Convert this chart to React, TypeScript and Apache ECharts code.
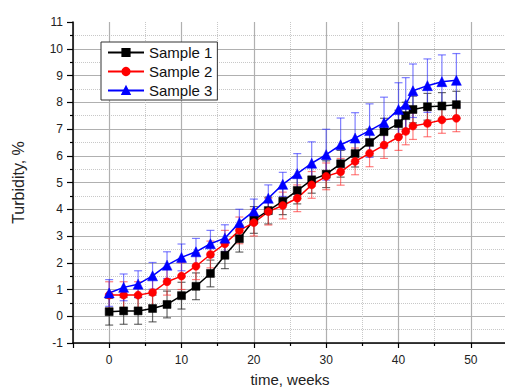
import React, { useEffect, useRef } from 'react';
import * as echarts from 'echarts';

const weeks = [0, 2, 4, 6, 8, 10, 12, 14, 16, 18, 20, 22, 24, 26, 28, 30, 32, 34, 36, 38, 40, 41, 42, 44, 46, 48];
const sample1 = [0.17, 0.2, 0.2, 0.29, 0.44, 0.77, 1.12, 1.6, 2.28, 2.9, 3.6, 3.95, 4.3, 4.7, 5.1, 5.31, 5.7, 6.08, 6.5, 6.9, 7.2, 7.5, 7.73, 7.83, 7.86, 7.91];
const sample2 = [0.79, 0.79, 0.79, 0.89, 1.29, 1.5, 1.87, 2.31, 2.71, 3.21, 3.5, 3.91, 4.14, 4.41, 4.91, 5.23, 5.4, 5.79, 6.09, 6.4, 6.7, 6.91, 7.11, 7.21, 7.34, 7.4];
const sample3 = [0.87, 1.08, 1.2, 1.51, 1.91, 2.2, 2.41, 2.71, 2.92, 3.5, 3.93, 4.41, 4.93, 5.33, 5.72, 6.04, 6.41, 6.66, 6.94, 7.24, 7.73, 7.92, 8.43, 8.62, 8.77, 8.82];
const err1 = [0.5, 0.5, 0.5, 0.5, 0.5, 0.5, 0.5, 0.5, 0.5, 0.5, 0.5, 0.5, 0.5, 0.5, 0.5, 0.5, 0.5, 0.5, 0.5, 0.5, 0.5, 0.5, 0.5, 0.5, 0.5, 0.5];
const err2 = [0.5, 0.5, 0.5, 0.5, 0.5, 0.5, 0.5, 0.5, 0.5, 0.5, 0.5, 0.5, 0.5, 0.5, 0.5, 0.5, 0.5, 0.5, 0.5, 0.5, 0.5, 0.5, 0.5, 0.5, 0.5, 0.5];
const err3 = [0.5, 0.5, 0.5, 0.5, 0.5, 0.5, 0.5, 0.5, 0.5, 0.5, 0.45, 0.5, 0.45, 0.75, 0.8, 0.95, 1.0, 0.95, 1.0, 0.95, 1.0, 1.0, 1.0, 1.0, 1.0, 1.0];
const seriesNames = ['Sample 1', 'Sample 2', 'Sample 3'];
const xAxisName = 'time, weeks';
const yAxisName = 'Turbidity, %';

const FONT = '"Liberation Sans", Arial, sans-serif';

function errorData(values: number[], errs: number[]) {
  return weeks.map((w, i) => [w, values[i] - errs[i], values[i] + errs[i]]);
}

function errorSeries(data: number[][], color: string) {
  return {
    type: 'custom',
    z: 1,
    silent: true,
    data,
    encode: { x: 0, y: [1, 2] },
    renderItem: (params: any, api: any) => {
      const x = api.value(0);
      const lo = api.coord([x, api.value(1)]);
      const hi = api.coord([x, api.value(2)]);
      const hw = 4;
      const style = { stroke: color, lineWidth: 1.2, fill: 'none' };
      return {
        type: 'group',
        children: [
          { type: 'line', shape: { x1: lo[0], y1: lo[1], x2: hi[0], y2: hi[1] }, style },
          { type: 'line', shape: { x1: lo[0] - hw, y1: lo[1], x2: lo[0] + hw, y2: lo[1] }, style },
          { type: 'line', shape: { x1: hi[0] - hw, y1: hi[1], x2: hi[0] + hw, y2: hi[1] }, style },
        ],
      };
    },
  };
}

function lineSeries(name: string, values: number[], color: string, symbol: string, size: number) {
  return {
    type: 'line',
    name,
    z: 3,
    data: weeks.map((w, i) => [w, values[i]]),
    symbol,
    symbolSize: size,
    showAllSymbol: true,
    lineStyle: { color, width: 1.5 },
    itemStyle: { color, borderColor: color, borderWidth: 0.5 },
  };
}

export default function App() {
  const ref = useRef<HTMLDivElement>(null);
  useEffect(() => {
    if (!ref.current) return;
    const chart = echarts.init(ref.current, null, { renderer: 'svg' });
    const axisLabel = { color: '#222', fontSize: 12, fontFamily: FONT };
    chart.setOption({
      animation: false,
      backgroundColor: '#fff',
      grid: { left: 73, top: 22, right: -2, bottom: 46, outerBoundsMode: 'none', containLabel: false },
      legend: {
        data: seriesNames,
        orient: 'vertical',
        left: 101,
        top: 42,
        padding: [3, 5, 2, 6],
        itemGap: 4,
        itemWidth: 36,
        itemHeight: 9,
        borderColor: '#333',
        borderWidth: 1,
        backgroundColor: '#fff',
        textStyle: { color: '#111', fontSize: 15, fontFamily: FONT },
      },
      xAxis: {
        type: 'value',
        min: -5,
        max: 55,
        splitNumber: 6,
        name: xAxisName,
        nameLocation: 'middle',
        nameGap: 29,
        nameTextStyle: { color: '#222', fontSize: 15, fontFamily: FONT },
        axisLine: { show: true, onZero: false, lineStyle: { color: '#000', width: 1.5 } },
        axisTick: { show: true, length: 5, lineStyle: { color: '#000', width: 1.2 } },
        minorTick: { show: true, splitNumber: 2, length: 3, lineStyle: { color: '#000', width: 1.2 } },
        axisLabel: {
          ...axisLabel,
          margin: 11,
          formatter: (v: number) => (v % 10 === 0 ? String(v) : ''),
        },
        splitLine: { show: true, lineStyle: { color: '#b0b0b0', width: 1.2 } },
        minorSplitLine: { show: true, lineStyle: { color: '#c8c8c8', type: 'dotted', width: 1 } },
      },
      yAxis: {
        type: 'value',
        min: -1,
        max: 11,
        interval: 1,
        name: yAxisName,
        nameLocation: 'middle',
        nameGap: 47,
        nameTextStyle: { color: '#222', fontSize: 16, fontFamily: FONT },
        axisLine: { show: true, onZero: false, lineStyle: { color: '#000', width: 1.5 } },
        axisTick: { show: true, length: 6, lineStyle: { color: '#000', width: 1.2 } },
        minorTick: { show: true, splitNumber: 2, length: 3, lineStyle: { color: '#000', width: 1.2 } },
        axisLabel: { ...axisLabel, margin: 10 },
        splitLine: { show: true, showMaxLine: false, lineStyle: { color: '#b0b0b0', width: 1.2 } },
        minorSplitLine: { show: true, lineStyle: { color: '#c8c8c8', type: 'dotted', width: 1 } },
      },
      series: [
        errorSeries(errorData(sample1, err1), 'rgba(40,40,40,0.7)'),
        errorSeries(errorData(sample2, err2), 'rgba(255,40,40,0.6)'),
        errorSeries(errorData(sample3, err3), 'rgba(40,40,255,0.6)'),
        lineSeries(seriesNames[0], sample1, '#000000', 'rect', 8),
        lineSeries(seriesNames[1], sample2, '#ff0000', 'circle', 8),
        lineSeries(seriesNames[2], sample3, '#0000ff', 'triangle', 10),
      ],
    });
    return () => chart.dispose();
  }, []);
  return <div ref={ref} style={{ position: 'absolute', left: 0, top: 0, width: 505, height: 389 }} />;
}
